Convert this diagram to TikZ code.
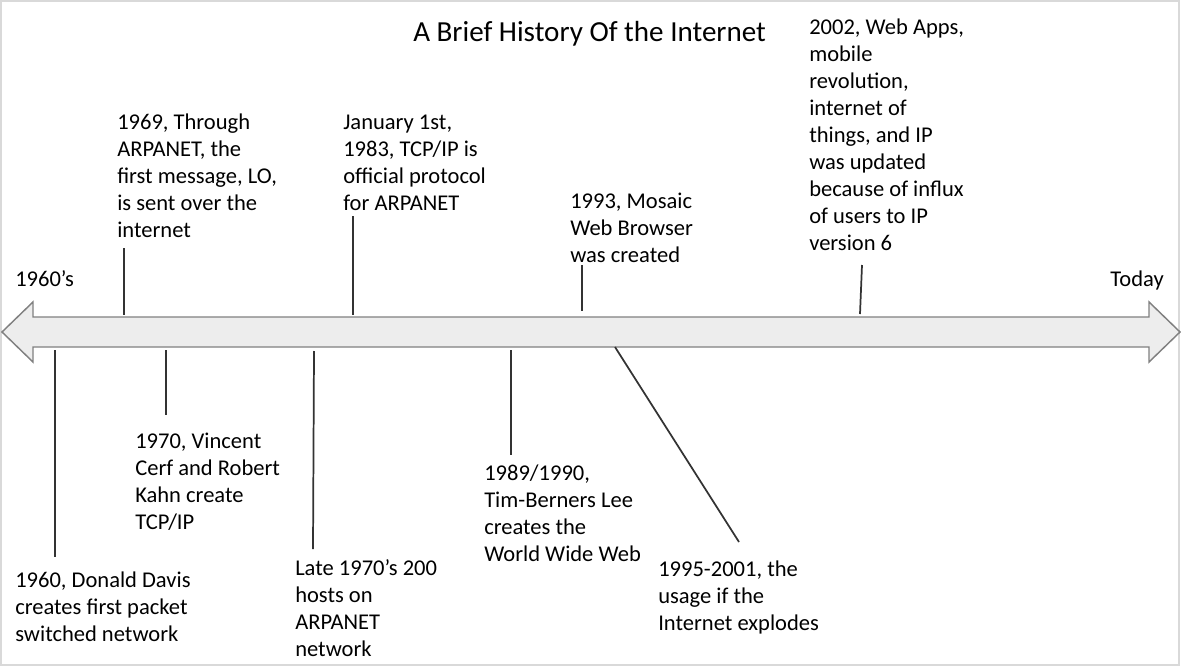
\documentclass[tikz,border=0pt]{standalone}
\usepackage{fontspec}
\setmainfont{Carlito}
\begin{document}
\begin{tikzpicture}[x=0.75pt,y=-0.75pt,
  lbl/.style={anchor=north west,inner sep=0pt,align=left,
    font=\fontsize{16.9}{20.25}\selectfont},
  single/.style={inner sep=0pt,font=\fontsize{16.9}{20.25}\selectfont},
  tick/.style={draw=black!80,line width=1.3pt},
  bar/.style={fill=black!7,draw=black!50,line width=1.1pt,line join=miter}]
\useasboundingbox (0,0) rectangle (1181,667);
\fill[white] (0,0) rectangle (1181,667);
\draw[black!15,line width=2pt] (1,1) rectangle (1179,665);

% timeline double arrow
\draw[bar] (2,332) -- (33,302) -- (33,317) -- (1149,317) -- (1149,302)
  -- (1180,332) -- (1149,362) -- (1149,347) -- (33,347) -- (33,362) -- cycle;

% title and ends
\node[single,anchor=base west,font=\fontsize{21.8}{26}\selectfont] (title) at (413,42) {A Brief History Of the Internet};
\node[single,anchor=base west] (start) at (15,286) {1960’s};
\node[single,anchor=base east] (today) at (1164,286) {Today};

% labels above
\node[lbl] (l1969) at (117,110.1) {\strut 1969, Through\\ARPANET, the\\first message, LO,\\is sent over the\\internet};
\node[lbl] (l1983) at (343,110.1) {\strut January 1st,\\1983, TCP/IP is\\official protocol\\for ARPANET};
\node[lbl] (l1993) at (570,189.1) {\strut 1993, Mosaic\\Web Browser\\was created};
\node[lbl] (l2002) at (809,15.1) {\strut 2002, Web Apps,\\mobile\\revolution,\\internet of\\things, and IP\\was updated\\because of influx\\of users to IP\\version 6};

% labels below
\node[lbl] (l1970) at (135,429.1) {\strut 1970, Vincent\\Cerf and Robert\\Kahn create\\TCP/IP};
\node[lbl] (l1989) at (484,461.1) {\strut 1989/1990,\\Tim-Berners Lee\\creates the\\World Wide Web};
\node[lbl] (l1960) at (15,568.1) {\strut 1960, Donald Davis\\creates first packet\\switched network};
\node[lbl] (llate) at (295,556.1) {\strut Late 1970’s 200\\hosts on\\ARPANET\\network};
\node[lbl] (l1995) at (658,557.1) {\strut 1995-2001, the\\usage if the\\Internet explodes};

% tick end points
\coordinate (a1969) at (124,248); \coordinate (b1969) at (124,315);
\coordinate (a1983) at (353,216); \coordinate (b1983) at (353,315);
\coordinate (a1993) at (582,265); \coordinate (b1993) at (582,311);
\coordinate (a2002) at (862,265); \coordinate (b2002) at (860,314);
\coordinate (a1960) at (55,350);  \coordinate (b1960) at (55,557);
\coordinate (a1970) at (166,350); \coordinate (b1970) at (166,415);
\coordinate (alate) at (314,351); \coordinate (blate) at (313,549);
\coordinate (a1989) at (511,350); \coordinate (b1989) at (511,455);
\coordinate (a1995) at (615,347); \coordinate (b1995) at (739,542);

\foreach \t in {1969,1983,1993,2002,1960,1970,late,1989,1995}
  \draw[tick] (a\t) -- (b\t);
\end{tikzpicture}
\end{document}
